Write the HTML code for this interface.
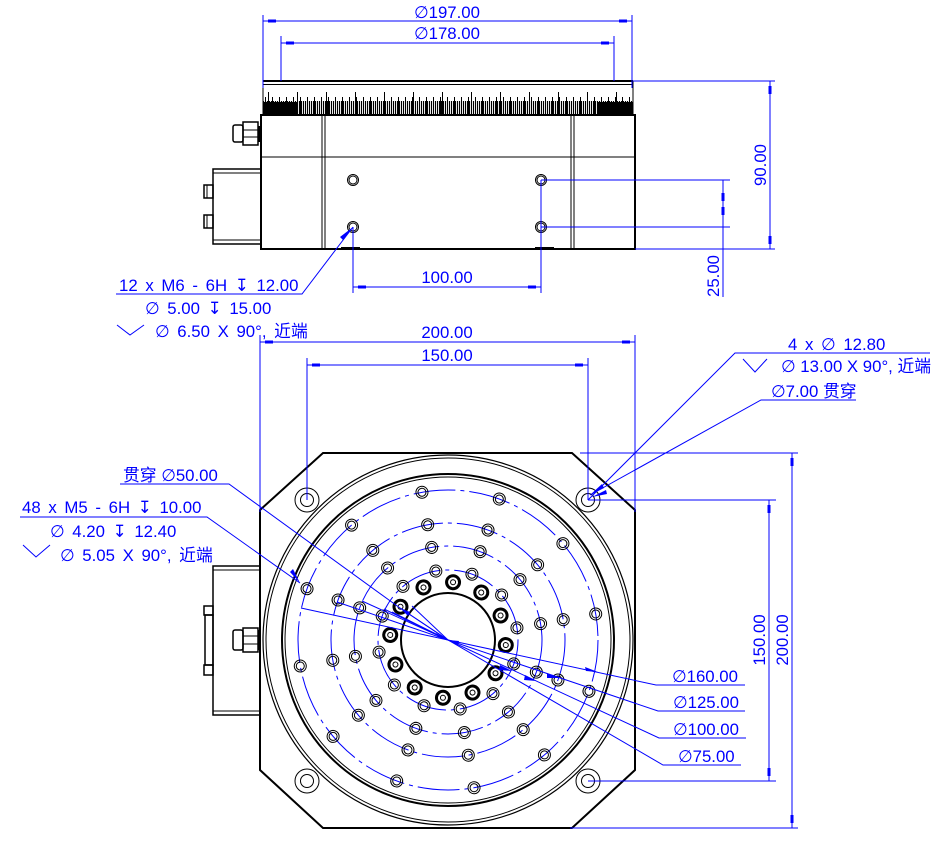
<!DOCTYPE html>
<html><head><meta charset="utf-8"><style>
html,body{margin:0;padding:0;background:#fff}
svg{display:block}
text{font-family:"Liberation Sans","DejaVu Sans","Noto Sans CJK SC",sans-serif;font-size:16.8px;fill:#0000ff}
.w{word-spacing:3px}
</style></head><body>
<svg width="948" height="851" viewBox="0 0 948 851" xmlns="http://www.w3.org/2000/svg">
<defs>
<pattern id="tk" x="263" y="0" width="2" height="851" patternUnits="userSpaceOnUse">
<rect x="0" y="101" width="1.1" height="14" fill="#000"/>
</pattern>
<pattern id="tk2" x="265" y="0" width="7" height="851" patternUnits="userSpaceOnUse">
<rect x="0" y="97" width="1" height="18" fill="#000"/>
</pattern>
<pattern id="tk3" x="268" y="0" width="29" height="851" patternUnits="userSpaceOnUse">
<rect x="0" y="92" width="1" height="23" fill="#000"/>
</pattern>
</defs>

<!-- ============ SIDE VIEW ============ -->
<g fill="none" stroke="#000">
<line x1="263" y1="81" x2="633" y2="81" stroke-width="2"/>
<line x1="263" y1="84.5" x2="633" y2="84.5" stroke-width="1"/>
<line x1="263" y1="81" x2="263" y2="115" stroke-width="1"/>
<line x1="633" y1="81" x2="633" y2="115" stroke-width="1"/>
</g>
<rect x="263" y="92" width="370" height="23" fill="url(#tk3)"/>
<rect x="263" y="97" width="370" height="18" fill="url(#tk2)"/>
<rect x="263" y="101" width="370" height="14" fill="url(#tk)"/>
<rect x="263" y="102" width="35" height="13" fill="#000"/>
<rect x="598" y="102" width="35" height="13" fill="#000"/>
<g fill="none" stroke="#000">
<rect x="261" y="115" width="374" height="134" stroke-width="2"/>
<line x1="261" y1="157" x2="635" y2="157" stroke-width="1"/>
<line x1="322" y1="115" x2="322" y2="249"/><line x1="325" y1="115" x2="325" y2="249"/>
<line x1="571" y1="115" x2="571" y2="249"/><line x1="574" y1="115" x2="574" y2="249"/>
<circle cx="353" cy="180" r="5.5"/><circle cx="353" cy="180" r="4"/>
<circle cx="353" cy="227" r="5.5"/><circle cx="353" cy="227" r="4"/>
<circle cx="541" cy="180" r="5.5"/><circle cx="541" cy="180" r="4"/>
<circle cx="541" cy="227" r="5.5"/><circle cx="541" cy="227" r="4"/>
<!-- left box -->
<rect x="213" y="169" width="48" height="75" stroke-width="1.5"/>
<line x1="213" y1="173" x2="261" y2="173"/><line x1="213" y1="240" x2="261" y2="240"/>
<rect x="204" y="185" width="9" height="13" stroke-width="1.5"/>
<rect x="204" y="215" width="9" height="13" stroke-width="1.5"/>
<line x1="207" y1="185" x2="207" y2="198"/><line x1="207" y1="215" x2="207" y2="228"/>
<!-- fitting -->
<rect x="233" y="125" width="10" height="17" rx="2" stroke-width="1.5"/>
<rect x="243" y="122" width="15" height="23" stroke-width="1.5"/>
<line x1="243" y1="130" x2="258" y2="130"/><line x1="243" y1="137" x2="258" y2="137"/>
</g>
<rect x="341" y="247" width="19" height="2" fill="#000"/>
<rect x="535" y="247" width="19" height="2" fill="#000"/>
<rect x="258" y="126" width="3" height="16" fill="#000"/>

<!-- side view dims -->
<g stroke="#0000ff" fill="none" stroke-width="1">
<line x1="263" y1="15" x2="263" y2="88"/><line x1="632" y1="15" x2="632" y2="88"/>
<line x1="263" y1="21" x2="632" y2="21"/>
<line x1="281" y1="36" x2="281" y2="81"/><line x1="614" y1="36" x2="614" y2="81"/>
<line x1="281" y1="43" x2="614" y2="43"/>
<line x1="633" y1="81" x2="775" y2="81"/><line x1="635" y1="249" x2="775" y2="249"/>
<line x1="770" y1="81" x2="770" y2="249"/>
<line x1="541" y1="180" x2="730" y2="180"/><line x1="541" y1="227" x2="730" y2="227"/>
<line x1="723" y1="180" x2="723" y2="297"/>
<line x1="353" y1="227" x2="353" y2="293"/><line x1="541" y1="180" x2="541" y2="293"/>
<line x1="353" y1="287" x2="541" y2="287"/>
<polyline points="116,294 302,294 353,227"/>
<polyline points="117,325 130,335 144,325"/>
</g>
<g fill="#0000ff">
<rect x="268" y="19.5" width="8" height="3"/><rect x="619" y="19.5" width="8" height="3"/>
<rect x="286" y="41.5" width="8" height="3"/><rect x="601" y="41.5" width="8" height="3"/>
<rect x="768.5" y="86" width="3" height="8"/><rect x="768.5" y="236" width="3" height="8"/>
<rect x="721.5" y="193" width="3" height="8"/><rect x="721.5" y="207" width="3" height="8"/>
<rect x="358" y="285.5" width="8" height="3"/><rect x="528" y="285.5" width="8" height="3"/>
<polygon points="353,227 343,240 340,237"/>
</g>
<text x="447" y="18" text-anchor="middle">∅197.00</text>
<text x="447" y="39" text-anchor="middle">∅178.00</text>
<text x="447" y="283" text-anchor="middle">100.00</text>
<text transform="translate(766,165) rotate(-90)" text-anchor="middle">90.00</text>
<text transform="translate(719,276) rotate(-90)" text-anchor="middle">25.00</text>
<text x="119" y="291" class="w">12 x  M6 - 6H ↧ 12.00</text>
<text x="145" y="314" class="w">∅ 5.00 ↧ 15.00</text>
<text x="155" y="337" class="w">∅ 6.50 X 90°, 近端</text>

<!-- ============ TOP VIEW ============ -->
<g fill="none" stroke="#000">
<polygon points="323,453 572,453 635,510 635,770 572,828 323,828 260,770 260,510" stroke-width="2"/>
<circle cx="448" cy="640" r="185" stroke-width="1.2"/>
<circle cx="448" cy="640" r="182" stroke-width="1"/>
<circle cx="448" cy="640" r="166" stroke-width="2"/>
<circle cx="448" cy="640" r="163" stroke-width="1"/>
<circle cx="448" cy="640" r="47" stroke-width="2"/>
<circle cx="307" cy="500" r="12"/><circle cx="307" cy="500" r="6.5"/>
<circle cx="588" cy="500" r="12"/><circle cx="588" cy="500" r="6.5"/>
<circle cx="307" cy="781" r="12"/><circle cx="307" cy="781" r="6.5"/>
<circle cx="588" cy="781" r="12"/><circle cx="588" cy="781" r="6.5"/>
<!-- left box -->
<rect x="213" y="566" width="47" height="149" stroke-width="1.5"/>
<line x1="213" y1="570" x2="260" y2="570"/><line x1="213" y1="711" x2="260" y2="711"/>
<rect x="204" y="606" width="9" height="9" stroke-width="1.5"/>
<rect x="205" y="615" width="8" height="50" stroke-width="1.5"/>
<rect x="204" y="665" width="9" height="10" stroke-width="1.5"/>
<rect x="233" y="630" width="10" height="20" rx="2" stroke-width="1.5"/>
<rect x="243" y="628" width="15" height="24" stroke-width="1.5"/>
<line x1="243" y1="636" x2="258" y2="636"/><line x1="243" y1="644" x2="258" y2="644"/>
</g>
<rect x="258" y="630" width="3" height="20" fill="#000"/>

<!-- blue center-line circles -->
<g fill="none" stroke="#0000ff" stroke-width="1" stroke-dasharray="42 5 4 5">
<circle cx="448" cy="640" r="150"/>
<circle cx="448" cy="640" r="117"/>
<circle cx="448" cy="640" r="94"/>
<circle cx="448" cy="640" r="70"/>
</g>

<!-- thin holes -->
<g fill="none" stroke="#000" stroke-width="1">
<g transform="rotate(20 448 640)"><circle cx="598" cy="640" r="6"/><circle cx="598" cy="640" r="4"/><circle cx="565" cy="640" r="6"/><circle cx="565" cy="640" r="4"/><circle cx="542" cy="640" r="6"/><circle cx="542" cy="640" r="4"/><circle cx="518" cy="640" r="6"/><circle cx="518" cy="640" r="4"/></g>
<g transform="rotate(50 448 640)"><circle cx="598" cy="640" r="6"/><circle cx="598" cy="640" r="4"/><circle cx="565" cy="640" r="6"/><circle cx="565" cy="640" r="4"/><circle cx="542" cy="640" r="6"/><circle cx="542" cy="640" r="4"/><circle cx="518" cy="640" r="6"/><circle cx="518" cy="640" r="4"/></g>
<g transform="rotate(80 448 640)"><circle cx="598" cy="640" r="6"/><circle cx="598" cy="640" r="4"/><circle cx="565" cy="640" r="6"/><circle cx="565" cy="640" r="4"/><circle cx="542" cy="640" r="6"/><circle cx="542" cy="640" r="4"/><circle cx="518" cy="640" r="6"/><circle cx="518" cy="640" r="4"/></g>
<g transform="rotate(110 448 640)"><circle cx="598" cy="640" r="6"/><circle cx="598" cy="640" r="4"/><circle cx="565" cy="640" r="6"/><circle cx="565" cy="640" r="4"/><circle cx="542" cy="640" r="6"/><circle cx="542" cy="640" r="4"/><circle cx="518" cy="640" r="6"/><circle cx="518" cy="640" r="4"/></g>
<g transform="rotate(140 448 640)"><circle cx="598" cy="640" r="6"/><circle cx="598" cy="640" r="4"/><circle cx="565" cy="640" r="6"/><circle cx="565" cy="640" r="4"/><circle cx="542" cy="640" r="6"/><circle cx="542" cy="640" r="4"/><circle cx="518" cy="640" r="6"/><circle cx="518" cy="640" r="4"/></g>
<g transform="rotate(170 448 640)"><circle cx="598" cy="640" r="6"/><circle cx="598" cy="640" r="4"/><circle cx="565" cy="640" r="6"/><circle cx="565" cy="640" r="4"/><circle cx="542" cy="640" r="6"/><circle cx="542" cy="640" r="4"/><circle cx="518" cy="640" r="6"/><circle cx="518" cy="640" r="4"/></g>
<g transform="rotate(200 448 640)"><circle cx="598" cy="640" r="6"/><circle cx="598" cy="640" r="4"/><circle cx="565" cy="640" r="6"/><circle cx="565" cy="640" r="4"/><circle cx="542" cy="640" r="6"/><circle cx="542" cy="640" r="4"/><circle cx="518" cy="640" r="6"/><circle cx="518" cy="640" r="4"/></g>
<g transform="rotate(230 448 640)"><circle cx="598" cy="640" r="6"/><circle cx="598" cy="640" r="4"/><circle cx="565" cy="640" r="6"/><circle cx="565" cy="640" r="4"/><circle cx="542" cy="640" r="6"/><circle cx="542" cy="640" r="4"/><circle cx="518" cy="640" r="6"/><circle cx="518" cy="640" r="4"/></g>
<g transform="rotate(260 448 640)"><circle cx="598" cy="640" r="6"/><circle cx="598" cy="640" r="4"/><circle cx="565" cy="640" r="6"/><circle cx="565" cy="640" r="4"/><circle cx="542" cy="640" r="6"/><circle cx="542" cy="640" r="4"/><circle cx="518" cy="640" r="6"/><circle cx="518" cy="640" r="4"/></g>
<g transform="rotate(290 448 640)"><circle cx="598" cy="640" r="6"/><circle cx="598" cy="640" r="4"/><circle cx="565" cy="640" r="6"/><circle cx="565" cy="640" r="4"/><circle cx="542" cy="640" r="6"/><circle cx="542" cy="640" r="4"/><circle cx="518" cy="640" r="6"/><circle cx="518" cy="640" r="4"/></g>
<g transform="rotate(320 448 640)"><circle cx="598" cy="640" r="6"/><circle cx="598" cy="640" r="4"/><circle cx="565" cy="640" r="6"/><circle cx="565" cy="640" r="4"/><circle cx="542" cy="640" r="6"/><circle cx="542" cy="640" r="4"/><circle cx="518" cy="640" r="6"/><circle cx="518" cy="640" r="4"/></g>
<g transform="rotate(350 448 640)"><circle cx="598" cy="640" r="6"/><circle cx="598" cy="640" r="4"/><circle cx="565" cy="640" r="6"/><circle cx="565" cy="640" r="4"/><circle cx="542" cy="640" r="6"/><circle cx="542" cy="640" r="4"/><circle cx="518" cy="640" r="6"/><circle cx="518" cy="640" r="4"/></g>
</g>
<!-- thick holes -->
<g fill="none" stroke="#000">
<g transform="rotate(5 448 640)"><circle cx="506" cy="640" r="6.5" stroke-width="3"/><circle cx="506" cy="640" r="2.5"/></g>
<g transform="rotate(35 448 640)"><circle cx="506" cy="640" r="6.5" stroke-width="3"/><circle cx="506" cy="640" r="2.5"/></g>
<g transform="rotate(65 448 640)"><circle cx="506" cy="640" r="6.5" stroke-width="3"/><circle cx="506" cy="640" r="2.5"/></g>
<g transform="rotate(95 448 640)"><circle cx="506" cy="640" r="6.5" stroke-width="3"/><circle cx="506" cy="640" r="2.5"/></g>
<g transform="rotate(125 448 640)"><circle cx="506" cy="640" r="6.5" stroke-width="3"/><circle cx="506" cy="640" r="2.5"/></g>
<g transform="rotate(155 448 640)"><circle cx="506" cy="640" r="6.5" stroke-width="3"/><circle cx="506" cy="640" r="2.5"/></g>
<g transform="rotate(185 448 640)"><circle cx="506" cy="640" r="6.5" stroke-width="3"/><circle cx="506" cy="640" r="2.5"/></g>
<g transform="rotate(215 448 640)"><circle cx="506" cy="640" r="6.5" stroke-width="3"/><circle cx="506" cy="640" r="2.5"/></g>
<g transform="rotate(245 448 640)"><circle cx="506" cy="640" r="6.5" stroke-width="3"/><circle cx="506" cy="640" r="2.5"/></g>
<g transform="rotate(275 448 640)"><circle cx="506" cy="640" r="6.5" stroke-width="3"/><circle cx="506" cy="640" r="2.5"/></g>
<g transform="rotate(305 448 640)"><circle cx="506" cy="640" r="6.5" stroke-width="3"/><circle cx="506" cy="640" r="2.5"/></g>
<g transform="rotate(335 448 640)"><circle cx="506" cy="640" r="6.5" stroke-width="3"/><circle cx="506" cy="640" r="2.5"/></g>
</g>

<!-- top view dims -->
<g stroke="#0000ff" fill="none" stroke-width="1">
<line x1="260" y1="335" x2="260" y2="512"/><line x1="635" y1="335" x2="635" y2="512"/>
<line x1="260" y1="342" x2="635" y2="342"/>
<line x1="307" y1="358" x2="307" y2="500"/><line x1="588" y1="358" x2="588" y2="500"/>
<line x1="307" y1="365" x2="588" y2="365"/>
<line x1="580" y1="453" x2="798" y2="453"/><line x1="570" y1="828" x2="798" y2="828"/>
<line x1="792" y1="453" x2="792" y2="828"/>
<line x1="588" y1="500" x2="776" y2="500"/><line x1="588" y1="781" x2="776" y2="781"/>
<line x1="769" y1="500" x2="769" y2="781"/>
<polyline points="930,353 735,353 588,500"/>
<polyline points="743,359 755,372 767,359"/>
<polyline points="856,400 761,400 590,495"/>
<polyline points="120,484 229,484 400,608 448,640"/>
<polyline points="20,517 207,517 300,583"/>
<polyline points="23,545 36,557 50,545"/>
<polyline points="301,608 448,640 656,685 745,685"/>
<polyline points="337,602 448,640 658,711 745,711"/>
<polyline points="362,601 448,640 659,738 746,738"/>
<polyline points="384,609 448,640 663,765 741,765"/>
<line x1="400" y1="608" x2="448" y2="640"/>
<line x1="392" y1="612" x2="448" y2="640"/>
<line x1="412" y1="606" x2="448" y2="640"/>
</g>
<g fill="#0000ff">
<rect x="265" y="340.5" width="8" height="3"/><rect x="622" y="340.5" width="8" height="3"/>
<rect x="312" y="363.5" width="8" height="3"/><rect x="575" y="363.5" width="8" height="3"/>
<rect x="790.5" y="458" width="3" height="8"/><rect x="790.5" y="815" width="3" height="8"/>
<rect x="767.5" y="505" width="3" height="8"/><rect x="767.5" y="768" width="3" height="8"/>
<polygon points="590,495 602,484 604,488"/>
<polygon points="592,497 606,490 607,494"/>
<polygon points="300,583 290,572 293,569"/>
<polygon points="400,608 410,612 408,616"/>
<polygon points="598,672 585,667 586,671"/>
<polygon points="559,678 547,673 547,678"/>
<polygon points="537,681 525,675 524,680"/>
<polygon points="512,671 500,665 499,670"/>
<polygon points="448,640 436,633 438,637"/>
<polygon points="448,640 458,645 459,641"/>
</g>
<text x="447" y="338" text-anchor="middle">200.00</text>
<text x="447" y="361" text-anchor="middle">150.00</text>
<text transform="translate(788,640) rotate(-90)" text-anchor="middle">200.00</text>
<text transform="translate(765,640) rotate(-90)" text-anchor="middle">150.00</text>
<text x="788" y="350" class="w">4 x  ∅ 12.80</text>
<text x="781" y="372">∅ 13.00 X 90°, 近端</text>
<text x="771" y="397">∅7.00 贯穿</text>
<text x="123" y="481">贯穿 ∅50.00</text>
<text x="22" y="513" class="w">48 x  M5 - 6H ↧ 10.00</text>
<text x="50" y="537" class="w">∅ 4.20 ↧ 12.40</text>
<text x="60" y="561" class="w">∅ 5.05 X 90°, 近端</text>
<text x="672" y="682">∅160.00</text>
<text x="673" y="708">∅125.00</text>
<text x="673" y="735">∅100.00</text>
<text x="678" y="762">∅75.00</text>
</svg>
</body></html>
